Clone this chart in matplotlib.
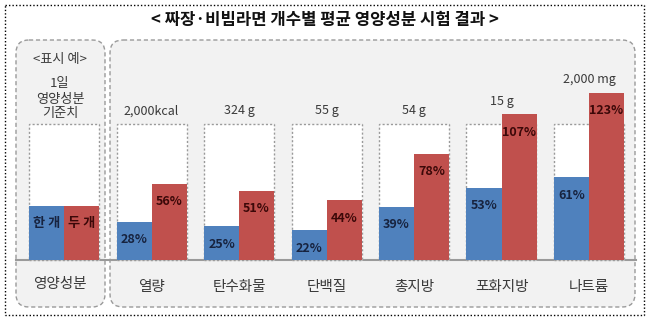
import matplotlib.pyplot as plt
from matplotlib.patches import FancyBboxPatch, Rectangle

plt.rcParams['font.family'] = ['Noto Sans CJK KR', 'DejaVu Sans']

# --- DATA ---
categories = ['열량', '탄수화물', '단백질', '총지방', '포화지방', '나트륨']
units = ['2,000kcal', '324 g', '55 g', '54 g', '15 g', '2,000 mg']
one_pack = [28, 25, 22, 39, 53, 61]
two_pack = [56, 51, 44, 78, 107, 123]
example_value = 40

BLUE = '#4f81bd'
RED = '#c0504d'
BLUE_TXT = '#17233f'
RED_TXT = '#3b0808'
GRAY = '#9a9a9a'
TXT = '#3a3a3a'

W, H = 649, 323
fig = plt.figure(figsize=(W / 100, H / 100), dpi=100)

# background layer in pixel coords
bg = fig.add_axes([0, 0, 1, 1])
bg.set_xlim(0, W)
bg.set_ylim(H, 0)
bg.axis('off')

bg.add_patch(Rectangle((5, 5), 639, 310, fill=False, ec='black', lw=1, ls=(0, (1, 1.5))))
for x0, x1 in [(16, 105), (110, 635)]:
    bg.add_patch(FancyBboxPatch((x0, 40), x1 - x0, 267, boxstyle='round,pad=0,rounding_size=13',
                                fc='#f2f2f2', ec=GRAY, lw=1, ls=(0, (3, 2))))
bg.plot([16, 636], [260, 260], color=GRAY, lw=1.5, zorder=5)

bg.text(325, 20, '< 짜장·비빔라면 개수별 평균 영양성분 시험 결과 >', ha='center', va='center',
        fontsize=12, fontweight='bold', color='#111111')

# left legend panel texts
bg.text(60, 60, '<표시 예>', ha='center', va='center', fontsize=9.5, color=TXT)
bg.text(60, 84, '1일', ha='center', va='center', fontsize=9.5, color=TXT)
bg.text(60, 99, '영양성분', ha='center', va='center', fontsize=9.5, color=TXT)
bg.text(60, 114, '기준치', ha='center', va='center', fontsize=9.5, color=TXT)
bg.text(64, 192, '함유율(%)', ha='center', va='center', fontsize=9, fontweight='bold', color='#222222')
bg.text(60, 284, '영양성분', ha='center', va='center', fontsize=10.5, color=TXT)

# data layer: group i centred at pixel 64 + 87.5*i, value 0 at pixel 260, 1% = 1.36 px
ax = fig.add_axes([0, 0, 1, 1])
ax.set_facecolor('none')
ax.set_xlim(-64 / 87.5, (W - 64) / 87.5)
ax.set_ylim((260 - H) / 1.36, 260 / 1.36)
ax.axis('off')

xs = list(range(1, len(categories) + 1))
all_x = [0] + xs
for x in all_x:
    ax.add_patch(Rectangle((x - 0.4, 0), 0.8, 100, fc='white', ec=GRAY, lw=1, ls=(0, (1.5, 1.5)), zorder=1))

ax.bar([0 - 0.2], [example_value], width=0.4, color=BLUE, zorder=2)
ax.bar([0 + 0.2], [example_value], width=0.4, color=RED, zorder=2)
ax.text(-0.2, example_value - 13, '한 개', ha='center', va='center', fontsize=9.5,
        fontweight='bold', color=BLUE_TXT)
ax.text(0.2, example_value - 13, '두 개', ha='center', va='center', fontsize=9.5,
        fontweight='bold', color=RED_TXT)

ax.bar([x - 0.2 for x in xs], one_pack, width=0.4, color=BLUE, zorder=2)
ax.bar([x + 0.2 for x in xs], two_pack, width=0.4, color=RED, zorder=2)

for x, v in zip(xs, one_pack):
    ax.annotate(f'{v}%', (x - 0.2, v), xytext=(0, -18), textcoords='offset pixels',
                ha='center', va='center', fontsize=9, fontweight='bold', color=BLUE_TXT)
for x, v in zip(xs, two_pack):
    ax.annotate(f'{v}%', (x + 0.2, v), xytext=(0, -18), textcoords='offset pixels',
                ha='center', va='center', fontsize=9, fontweight='bold', color=RED_TXT)

for x, u, v in zip(xs, units, two_pack):
    ax.annotate(u, (x, max(100, v)), xytext=(0, 13), textcoords='offset pixels',
                ha='center', va='center', fontsize=9, color=TXT)

for x, c in zip(xs, categories):
    ax.text(x, -20, c, ha='center', va='center', fontsize=10.5, color=TXT)

fig.savefig('out.png', dpi=100)
